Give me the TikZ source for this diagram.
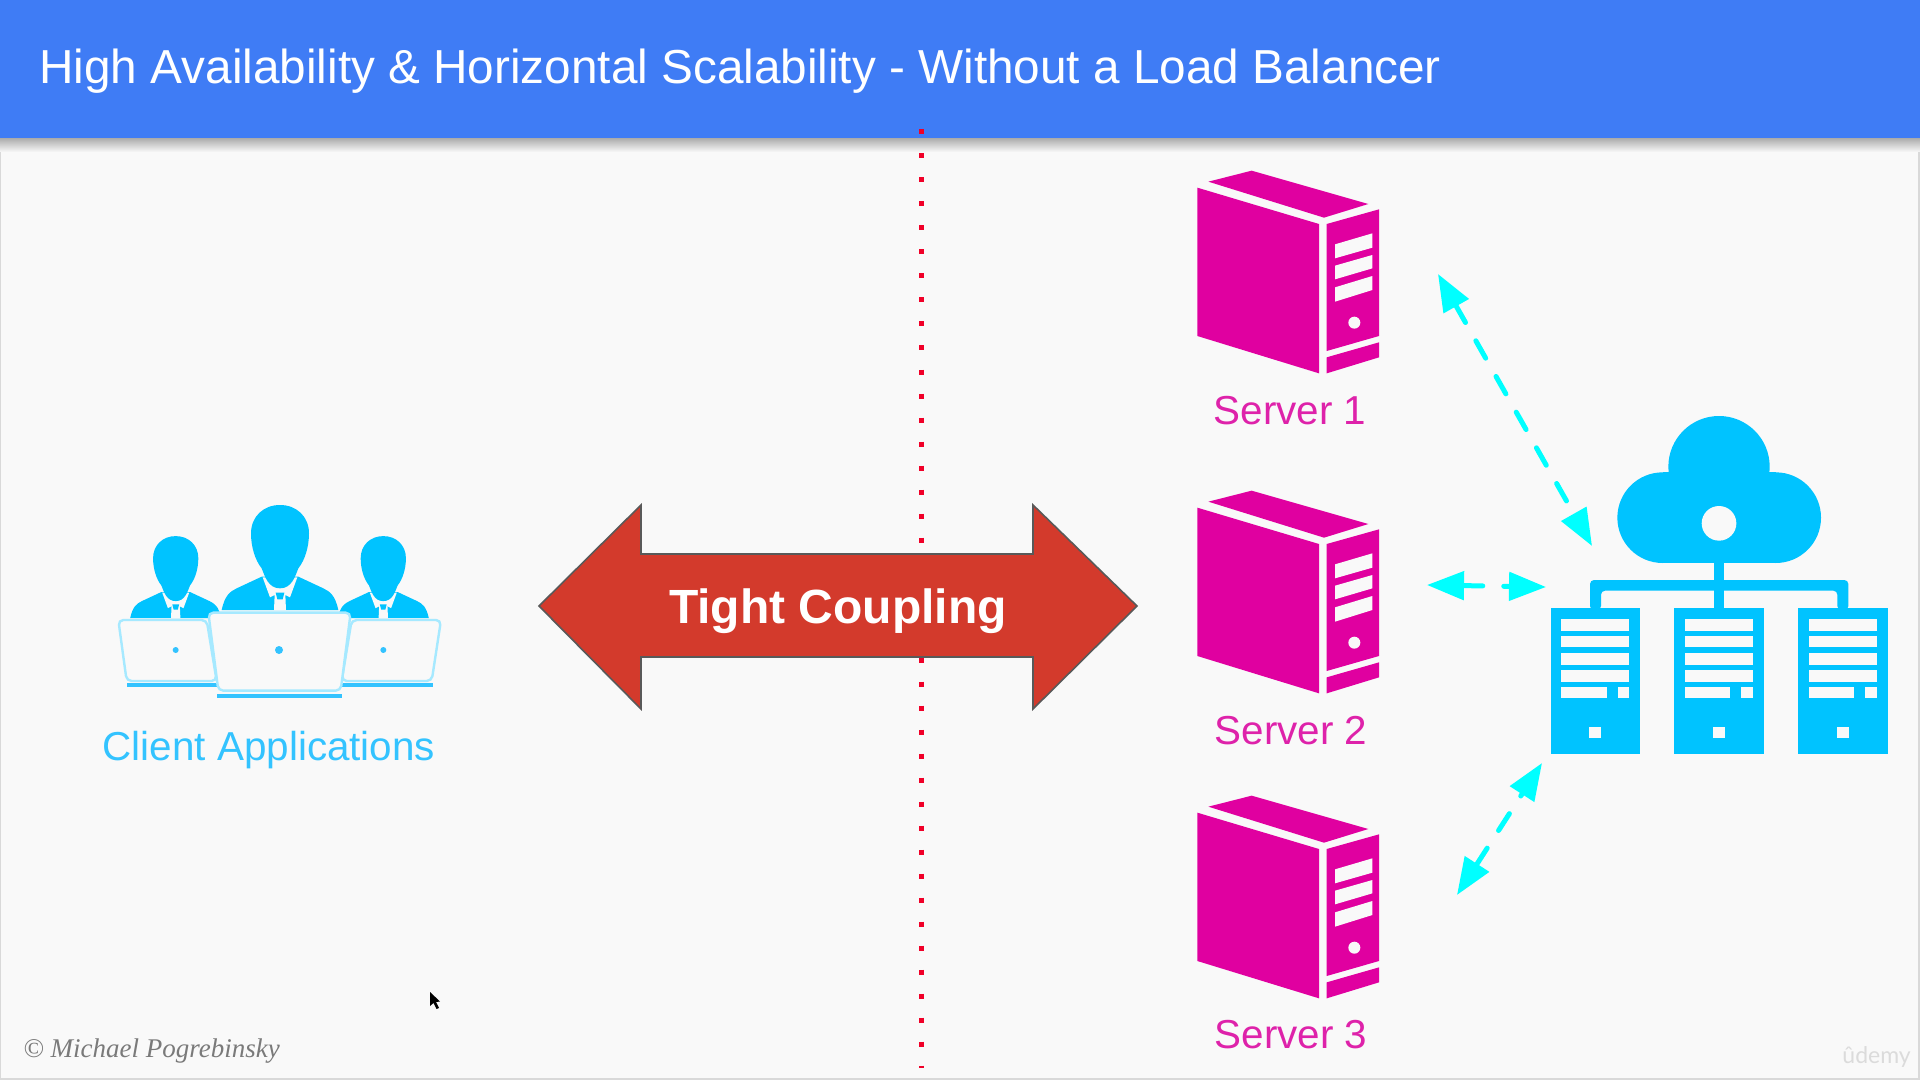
\documentclass[tikz,border=0pt]{standalone}
\usepackage{fontspec}
\setmainfont{Liberation Sans}
\newfontfamily\serifit{Liberation Serif}
\newfontfamily\latofont{Lato}
\usetikzlibrary{arrows.meta}
\definecolor{bgc}{HTML}{F9F9F9}
\definecolor{headc}{HTML}{3F7CF5}
\definecolor{skyc}{HTML}{00C3FF}
\definecolor{skytxt}{HTML}{33C3FF}
\definecolor{laptopc}{HTML}{A6E9FF}
\definecolor{magc}{HTML}{E000A0}
\definecolor{magtxt}{HTML}{DE22AA}
\definecolor{redc}{HTML}{D33A2C}
\definecolor{dotc}{HTML}{F00028}
\definecolor{cyanc}{HTML}{00FFFF}
\tikzset{
  laptopbody/.style={draw=laptopc,line width=1.2pt,fill=bgc,rounded corners=2.5pt},
  exchangeb/.style={draw=cyanc,line width=2.5pt,line cap=round,dash pattern=on 10pt off 10.5pt,
    {Triangle[length=18.5pt,width=14pt,fill=cyanc]}-{Triangle[length=18.5pt,width=14pt,fill=cyanc]}},
  lbl/.style={inner sep=0pt,anchor=base,font=\fontsize{20.2}{24}\selectfont},
}
% person: #1 x, #2 y of the local origin, #3 scale factor of the local unit
\newcommand{\drawperson}[3]{%
\begin{scope}[shift={(#1,#2)},x=#3pt,y=-#3pt]
  \fill[skyc] (-175,390) .. controls (-165,345) and (-150,335) .. (-130,325) -- (-55,290) -- (55,290) -- (130,325) .. controls (150,335) and (165,345) .. (175,390) -- cycle;
  \fill[bgc] (-52,292) -- (-30,352) -- (-16,345) -- (-18,390) -- (18,390) -- (16,345) -- (30,352) -- (52,292) -- cycle;
  \fill[skyc] (-13,338) -- (13,338) -- (8,358) -- (-8,358) -- cycle;
  \fill[skyc] (0,325) .. controls (-35,325) and (-45,290) .. (-55,265) .. controls (-75,240) and (-87,200) .. (-87,160) .. controls (-87,110) and (-50,75) .. (0,75) .. controls (50,75) and (87,110) .. (87,160) .. controls (87,200) and (75,240) .. (55,265) .. controls (45,290) and (35,325) .. (0,325) -- cycle;
\end{scope}}
% tower server glyph
\newcommand{\drawtower}[2]{%
\begin{scope}[shift={(#1,#2)},x=.16667pt,y=-.16667pt]
  \fill[magc] (82,113) -- (447,222) -- (447,670) -- (82,558) -- cycle;
  \fill[magc] (115,95) -- (245,62) -- (595,162) -- (462,203) -- cycle;
  \fill[magc] (470,222) -- (627,178) -- (627,558) -- (470,603) -- cycle;
  \fill[magc] (470,622) -- (627,577) -- (627,622) -- (470,670) -- cycle;
  \fill[bgc] (495,283) -- (607,250) -- (607,293) -- (495,325) -- cycle;
  \fill[bgc] (495,347) -- (607,315) -- (607,355) -- (495,388) -- cycle;
  \fill[bgc] (495,412) -- (607,378) -- (607,420) -- (495,455) -- cycle;
  \fill[bgc] (553,518) circle (18);
\end{scope}}
% rack server glyph in the cloud icon
\newcommand{\drawrack}[1]{%
\begin{scope}[shift={(#1,0)}]
  \fill[skyc] (0,625) rectangle (268,1062);
  \foreach \yy in {658,708,760,811} {\fill[bgc] (32,\yy) rectangle (235,\yy+34);}
  \fill[bgc] (32,861) rectangle (168,895);
  \fill[bgc] (201,861) rectangle (235,895);
  \fill[bgc] (116,980) rectangle (151,1014);
\end{scope}}
\begin{document}
\begin{tikzpicture}[x=.5pt,y=-.5pt]
\useasboundingbox (0,0) rectangle (1920,1080);
% background and frame
\fill[bgc] (0,0) rectangle (1920,1080);
\fill[gray!30] (0,0) rectangle (1,1080);
\fill[gray!30] (1918,0) rectangle (1920,1080);
\fill[gray!30] (0,1078) rectangle (1920,1080);
% header
\shade[top color=black!35,bottom color=bgc] (0,137) rectangle (1920,152);
\fill[headc] (0,0) rectangle (1920,138);
\node[inner sep=0pt,anchor=base west,text=white,font=\fontsize{23.85}{28}\selectfont] (title) at (39,84) {High Availability \& Horizontal Scalability - Without a Load Balancer};
% divider
\coordinate (divtop) at (921,129.5);
\coordinate (divbot) at (921,1067.5);
\draw[dotc,line width=2.5pt,dash pattern=on 2.5pt off 9.5pt] (divtop) -- (divbot);
% big arrow
\draw[draw=black!65,line width=.8pt,fill=redc] (539,606) -- (641,505) -- (641,554) -- (1033,554) -- (1033,505) -- (1137,606) -- (1033,709) -- (1033,657) -- (641,657) -- (641,709) -- cycle;
\node[inner sep=0pt,anchor=base,text=white,font=\bfseries\fontsize{24}{28}\selectfont] (coupling) at (838,623) {Tight Coupling};
% clients
\drawperson{175.7}{516.6}{.13}
\drawperson{383.3}{516.6}{.13}
\drawperson{280}{480}{.16667}
\begin{scope}[shift={(80,480)},x=.16667pt,y=-.16667pt]
  \draw[laptopbody] (115,420) -- (380,420) -- (410,603) -- (140,603) -- cycle;
  \draw[laptopbody] (815,420) -- (1083,420) -- (1055,603) -- (785,603) -- cycle;
  \fill[skytxt] (140,610) rectangle (410,622);
  \fill[skytxt] (785,610) rectangle (1058,622);
  \fill[skytxt] (287,510) circle (9);
  \fill[skytxt] (910,510) circle (9);
  \draw[laptopbody] (385,398) -- (812,398) -- (782,632) -- (415,632) -- cycle;
  \fill[skytxt] (410,641) rectangle (787,653);
  \fill[skytxt] (597,510) circle (12);
\end{scope}
\node[lbl,text=skytxt] (clients) at (269,760) {Client Applications};
% servers
\drawtower{1170}{150}
\drawtower{1170}{470}
\drawtower{1170}{775}
\node[lbl,text=magtxt] (server1) at (1290,424) {Server 1};
\node[lbl,text=magtxt] (server2) at (1291,744) {Server 2};
\node[lbl,text=magtxt] (server3) at (1291,1048) {Server 3};
% cloud and racks
\begin{scope}[shift={(1520,400)},x=.16667pt,y=-.16667pt]
  \fill[skyc] (597,200) circle (152);
  \fill[skyc] (428,353) circle (136);
  \fill[skyc] (767,353) circle (136);
  \fill[skyc] (428,217) rectangle (767,489);
  \fill[bgc] (597,370) circle (52);
  \fill[skyc] (582,485) rectangle (612,630);
  \fill[skyc,rounded corners=2pt] (210,630) -- (210,540) -- (985,540) -- (985,630) -- (952,630) -- (952,572) -- (243,572) -- (243,630) -- cycle;
  \drawrack{92}
  \drawrack{463}
  \drawrack{835}
\end{scope}
% exchange arrows
\coordinate (a1s) at (1438,274);
\coordinate (a1e) at (1592,546);
\coordinate (a2s) at (1427,585);
\coordinate (a2e) at (1546,587);
\coordinate (a3s) at (1457,895);
\coordinate (a3e) at (1542,763);
\draw[exchangeb] (a1s) -- (a1e);
\draw[exchangeb] (a2s) -- (a2e);
\draw[exchangeb] (a3s) -- (a3e);
% copyright
\node[inner sep=0pt,anchor=base west,text=black!52,font=\serifit\itshape\fontsize{13.5}{16}\selectfont] (copy) at (23,1057) {© Michael Pogrebinsky};
% watermark
\node[inner sep=0pt,anchor=base west,text=black!14,font=\latofont\fontsize{11.5}{14}\selectfont] (udemy) at (1842,1063) {ûdemy};
% cursor
\fill[black] (430,992) -- (430,1006) -- (433.5,1003) -- (436.5,1009) -- (439,1008) -- (436,1002) -- (440,1001.5) -- cycle;
\end{tikzpicture}
\end{document}
